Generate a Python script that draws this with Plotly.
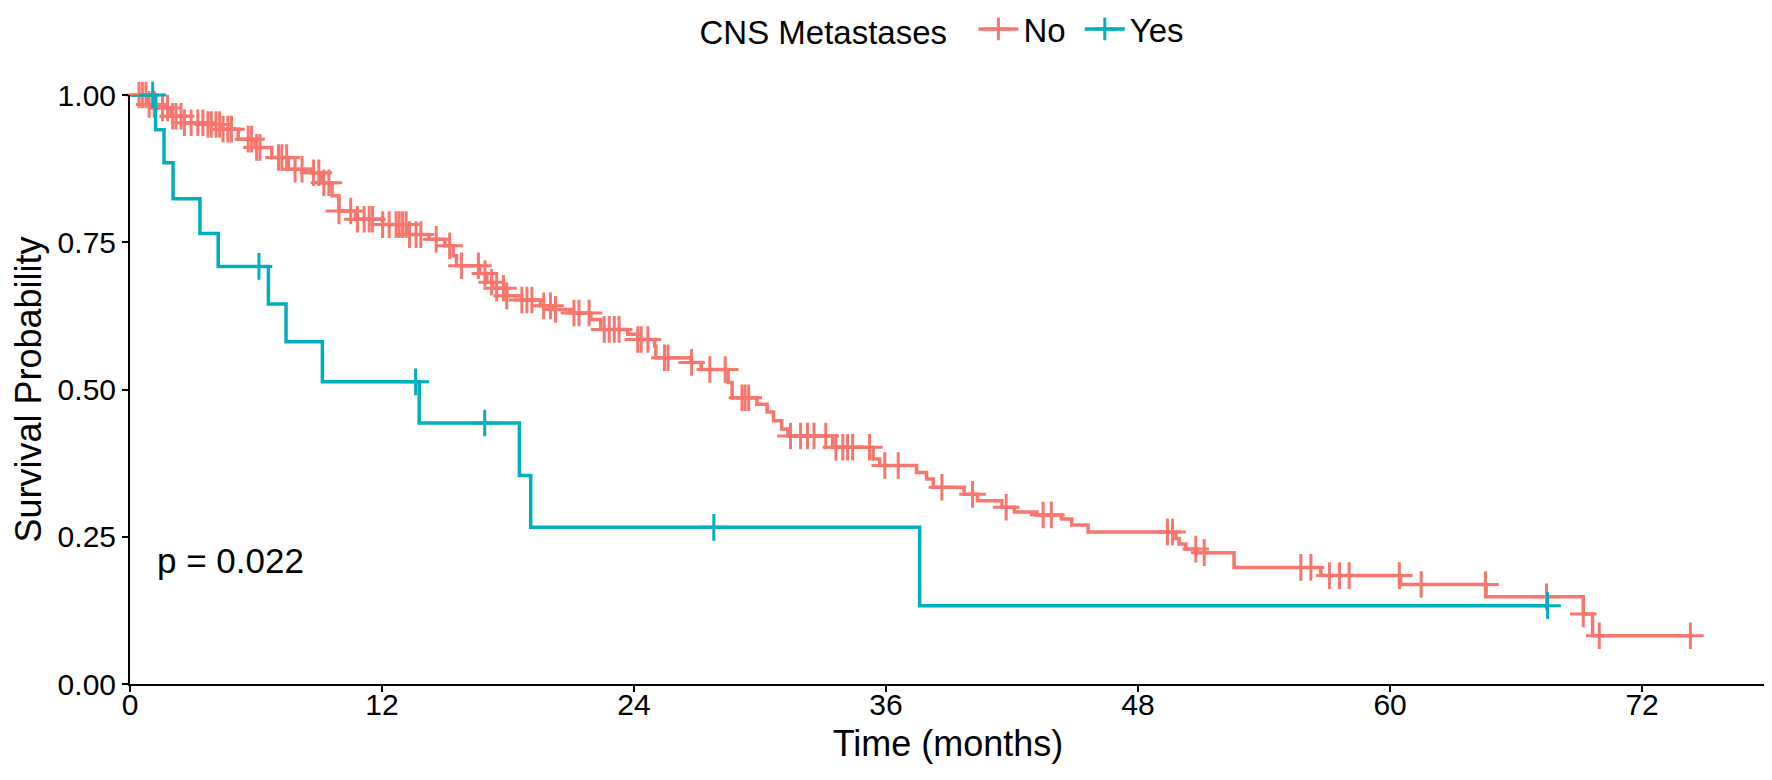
import plotly.graph_objects as go

# ---- data ----
group_names = ["No", "Yes"]
group_colors = ["#F8766D", "#00AFBB"]

# "No" group: event times (months) and survival just after each event
no_event_t = [0, 0.83, 1.32, 1.95, 2.59, 3.54, 4.35, 5.15, 5.95, 6.75, 7.54, 8.67, 9.13, 9.62,
              9.95, 10.74, 12.03, 13.16, 14.24, 14.99, 15.39, 15.55, 16.66, 16.99, 17.28, 17.94,
              18.66, 19.54, 20.18, 21.01, 21.94, 22.42, 23.70, 24.18, 24.98, 25.04, 26.71, 27.20,
              28.48, 28.67, 29.85, 30.34, 30.64, 31.03, 31.33, 33.46, 35.38, 35.70, 37.45, 37.93,
              38.25, 39.72, 40.35, 41.52, 42.11, 43.18, 44.35, 44.84, 45.62, 49.80, 49.95, 50.27,
              50.83, 52.57, 56.70, 60.50, 64.57, 69.20, 69.64]
no_event_s = [1.0, 0.984, 0.978, 0.964, 0.953, 0.950, 0.942, 0.925, 0.911, 0.894, 0.874, 0.868,
              0.851, 0.829, 0.803, 0.789, 0.780, 0.763, 0.755, 0.744, 0.727, 0.710, 0.697, 0.682,
              0.672, 0.659, 0.652, 0.642, 0.636, 0.630, 0.619, 0.602, 0.594, 0.585, 0.574, 0.554,
              0.546, 0.534, 0.512, 0.486, 0.475, 0.462, 0.447, 0.433, 0.421, 0.402, 0.382, 0.371,
              0.359, 0.348, 0.334, 0.322, 0.311, 0.300, 0.292, 0.287, 0.280, 0.270, 0.258, 0.247,
              0.2375, 0.229, 0.223, 0.198, 0.184, 0.169, 0.148, 0.119, 0.082]
no_censor_t = [0.43, 0.59, 0.76, 0.91, 1.15, 1.55, 1.79, 2.03, 2.19, 2.43, 2.59, 2.91, 3.23, 3.47,
               3.71, 3.87, 4.10, 4.27, 4.43, 4.66, 4.83, 5.63, 5.79, 6.03, 6.19, 7.07, 7.23, 7.46,
               7.86, 8.19, 8.74, 8.99, 9.23, 9.47, 9.95, 10.51, 10.83, 11.15, 11.39, 11.55, 12.03,
               12.34, 12.67, 12.82, 12.98, 13.15, 13.31, 13.62, 13.85, 14.58, 15.22, 15.78, 16.59,
               16.90, 17.22, 17.46, 17.78, 17.94, 18.66, 18.90, 19.14, 19.70, 20.02, 20.26, 21.14,
               21.38, 21.86, 22.58, 22.82, 23.06, 23.29, 24.18, 24.34, 24.66, 25.45, 25.62, 26.74,
               27.61, 28.34, 29.14, 29.29, 29.46, 31.45, 31.93, 32.26, 32.57, 33.13, 33.61, 33.94,
               34.17, 34.41, 35.21, 35.94, 36.58, 38.66, 40.12, 41.72, 43.48, 43.87, 49.40, 49.64,
               50.75, 51.15, 55.75, 56.23, 57.11, 57.59, 58.05, 60.44, 61.48, 64.54, 67.45, 69.20,
               69.96, 74.3]

# "Yes" group
yes_event_t = [0, 1.22, 1.62, 2.05, 3.33, 4.20, 6.59, 7.43, 9.16, 13.77, 18.54, 19.08, 37.6]
yes_event_s = [1.0, 0.941, 0.885, 0.824, 0.765, 0.709, 0.645, 0.581, 0.513, 0.443, 0.354, 0.266, 0.133]
yes_censor_t = [1.08, 6.14, 13.60, 16.89, 27.8, 67.5]

x_ticks = [0, 12, 24, 36, 48, 60, 72]
y_ticks = [0, 0.25, 0.5, 0.75, 1.0]
y_tick_labels = ["0.00", "0.25", "0.50", "0.75", "1.00"]
p_text = "p = 0.022"


def surv_at(t, et, es):
    s = 1.0
    for a, b in zip(et, es):
        if a <= t:
            s = b
    return s


def build_curve(et, es, ct):
    pts = [(a, b) for a, b in zip(et, es)] + [(c, surv_at(c, et, es)) for c in ct]
    pts.sort(key=lambda p: p[0])
    return [p[0] for p in pts], [p[1] for p in pts]


FONT = "Liberation Sans, Arial, sans-serif"
LW = 3.5
MS = 19
MLW = 3
fig = go.Figure()

groups = [(no_event_t, no_event_s, no_censor_t), (yes_event_t, yes_event_s, yes_censor_t)]
for (et, es, ct), name, col in zip(groups, group_names, group_colors):
    lx, ly = build_curve(et, es, ct)
    fig.add_trace(go.Scatter(x=lx, y=ly, mode="lines", line=dict(color=col, width=LW, shape="hv"),
                             showlegend=False, cliponaxis=False, hoverinfo="skip"))
    cy = [surv_at(c, et, es) for c in ct]
    fig.add_trace(go.Scatter(x=ct, y=cy, mode="markers", showlegend=False, cliponaxis=False,
                             marker=dict(symbol="cross-thin", size=MS,
                                         line=dict(color=col, width=MLW), color=col)))

for name, col in zip(group_names, group_colors):
    fig.add_trace(go.Scatter(x=[None], y=[None], mode="lines+markers", name=name + "\u00a0",
                             line=dict(color=col, width=LW),
                             marker=dict(symbol="cross-thin", size=MS,
                                         line=dict(color=col, width=MLW), color=col)))

fig.add_annotation(x=1.2, y=0.21, xref="x", yref="y", text=p_text, showarrow=False,
                   xanchor="left", yanchor="middle", font=dict(family=FONT, size=35, color="black"))

fig.update_layout(
    width=1772, height=780,
    margin=dict(l=122, r=14, t=87, b=104, autoexpand=False),
    paper_bgcolor="white", plot_bgcolor="white",
    font=dict(family=FONT, color="black"),
    legend=dict(orientation="h", x=0.5, xanchor="center", y=1.112, yanchor="middle",
                title=dict(text="CNS Metastases  ", side="left", font=dict(size=33)),
                font=dict(size=33), itemwidth=40),
    xaxis=dict(range=[0, 77.9], tickvals=x_ticks, ticks="outside", ticklen=6, tickwidth=2,
               tickcolor="black", showline=True, linewidth=2, linecolor="black",
               showgrid=False, zeroline=False, tickfont=dict(size=30), ticklabelstandoff=-13,
               title=dict(text="Time (months)", font=dict(size=36), standoff=11)),
    yaxis=dict(range=[0, 1], tickvals=y_ticks, ticktext=y_tick_labels, ticks="outside",
               ticklen=6, tickwidth=2, tickcolor="black", showline=True, linewidth=2,
               linecolor="black", showgrid=False, zeroline=False, tickfont=dict(size=30),
               title=dict(text="Survival Probability", font=dict(size=36), standoff=6)),
)

fig.write_html("out.html")
